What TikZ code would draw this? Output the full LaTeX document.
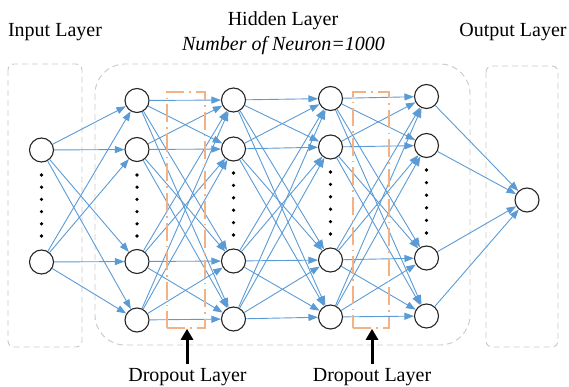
\documentclass[tikz,border=0pt]{standalone}
\usepackage{fontspec}
\setmainfont{Liberation Serif}
\usetikzlibrary{arrows.meta}
\definecolor{linkblue}{HTML}{5B9BD5}
\definecolor{dropcol}{HTML}{F4B183}
\definecolor{framegray}{HTML}{C8C8C8}
\begin{document}
\begin{tikzpicture}[x=1pt,y=-1pt,
  neuron/.style={circle,draw=black!85,line width=1.1pt,fill=white,minimum size=24pt,inner sep=0pt},
  link/.style={draw=linkblue,line width=0.9pt,-{Triangle[length=9.5pt,width=7pt]}},
  frame/.style={draw=framegray,dash pattern=on 6pt off 4pt,line width=0.9pt},
  dropbox/.style={draw=dropcol,line width=1.6pt,dash pattern=on 18pt off 5pt on 1.5pt off 5pt,inner sep=0pt},
  label/.style={font=\fontsize{20}{24}\selectfont,inner sep=0pt},
  pointer/.style={line width=3pt,-{Triangle[length=11pt,width=12pt]}}]
\useasboundingbox (0,0) rectangle (569,387);

% layer frames
\draw[frame,rounded corners=6pt] (8,64) rectangle (82,347);
\draw[frame,rounded corners=30pt] (95,64) rectangle (470,345);
\draw[frame,rounded corners=6pt] (486,66) rectangle (558,347);

% titles
\node[label] (tin) at (55,32) {Input Layer};
\node[label] (thid) at (283,21) {Hidden Layer};
\node[label] (tnum) at (283.5,46) {\itshape Number of Neuron=1000};
\node[label] (tout) at (513,32) {Output Layer};

% neurons
\node[neuron] (i1) at (41.5,150) {};
\node[neuron] (i2) at (41.5,262) {};
\foreach \n/\x/\ya/\yb/\yc/\yd in {a/137/100.5/149.5/261.5/320,
                                   b/233.5/100/149/261/319,
                                   c/330.5/98.5/147/260/317,
                                   d/426.5/96.5/145.5/258/316}{
  \node[neuron] (\n1) at (\x,\ya) {};
  \node[neuron] (\n2) at (\x,\yb) {};
  \node[neuron] (\n3) at (\x,\yc) {};
  \node[neuron] (\n4) at (\x,\yd) {};
}
\node[neuron] (o) at (527,200) {};

% ellipsis dots
\foreach \x/\ya/\yb in {41.5/175/236, 137/175/236, 233.5/173/235, 330.5/172/234, 426.5/170/233}{
  \foreach \k in {0,...,5}
    \fill (\x,{\ya+\k*(\yb-\ya)/5}) circle (1.8pt);
}

% connections
\foreach \s in {i1,i2}
  \foreach \t in {a1,a2,a3,a4}
    \draw[link] (\s) -- (\t);
\foreach \p/\q in {a/b,b/c,c/d}
  \foreach \s in {1,...,4}
    \foreach \t in {1,...,4}
      \draw[link] (\p\s) -- (\q\t);
\foreach \s in {d1,d2,d3,d4}
  \draw[link] (\s) -- (o);

% dropout layers
\node[dropbox,minimum width=38pt,minimum height=236pt] (drop1) at (186,210) {};
\node[dropbox,minimum width=36pt,minimum height=236pt] (drop2) at (371,210) {};

\node[label] (dl1) at (187.5,377) {Dropout Layer};
\node[label] (dl2) at (372,377) {Dropout Layer};
\coordinate (p1) at (187,364);
\coordinate (p2) at (372,364);
\draw[pointer] (p1) -- (p1 |- drop1.south);
\draw[pointer] (p2) -- (p2 |- drop2.south);
\end{tikzpicture}
\end{document}
